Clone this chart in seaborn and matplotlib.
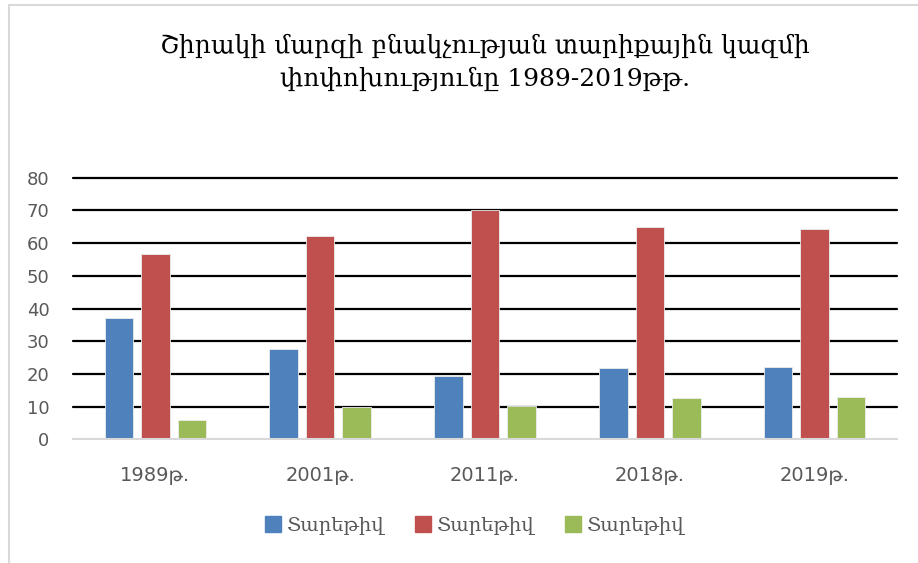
import pandas as pd
import matplotlib.pyplot as plt
import seaborn as sns
from matplotlib.lines import Line2D

years = ["1989թ.", "2001թ.", "2011թ.", "2018թ.", "2019թ."]
series_names = ["Տարեթիվ", "Տարեթիվ ", "Տարեթիվ  "]
blue_vals = [37.0, 27.5, 19.4, 21.9, 22.1]
red_vals = [56.6, 62.2, 70.1, 65.0, 64.3]
green_vals = [5.9, 9.8, 10.3, 12.5, 13.0]
colors = ["#4F81BD", "#C0504D", "#9BBB59"]
title = "Շիրակի մարզի բնակչության տարիքային կազմի\nփոփոխությունը 1989-2019թթ."

rows = []
for name, vals in zip(series_names, [blue_vals, red_vals, green_vals]):
    for yr, v in zip(years, vals):
        rows.append({"year": yr, "series": name, "value": v})
df = pd.DataFrame(rows)

sns.set_style("white")
plt.rcParams["font.family"] = ["DejaVu Sans"]

fig = plt.figure(figsize=(9.18, 5.63), dpi=100)
ax = fig.add_axes([73 / 918, 1 - 439.3 / 563, 824 / 918, 261.6 / 563])

for y in range(10, 90, 10):
    ax.axhline(y, color="black", lw=1.6, zorder=0, clip_on=False)

sns.barplot(data=df, x="year", y="value", hue="series", palette=colors,
            width=0.664, gap=0.217, saturation=1, ax=ax, legend=False, zorder=2,
            edgecolor="#EDEDED", linewidth=0.6)

ax.set_ylim(0, 80)
ax.set_xlim(-0.5, 4.5)
ax.set_yticks(range(0, 90, 10))
ax.set_xlabel("")
ax.set_ylabel("")
for s in ["top", "right", "left"]:
    ax.spines[s].set_visible(False)
ax.spines["bottom"].set_color("#D9D9D9")
ax.spines["bottom"].set_linewidth(1.5)
ax.tick_params(axis="both", length=0, colors="#595959")
ax.tick_params(axis="y", pad=17, labelsize=13)
ax.tick_params(axis="x", pad=19, labelsize=14)

handles = [Line2D([0], [0], marker="s", color="none", markerfacecolor=c,
                  markeredgecolor=c, markersize=11) for c in colors]
fig.legend(handles, ["Տարեթիվ"] * 3, loc="center", bbox_to_anchor=(472 / 918, 1 - 526 / 563),
           ncol=3, frameon=False, labelcolor="#595959",
           handletextpad=0.0, columnspacing=1.3, handlelength=1.4,
           prop={"family": ["DejaVu Serif"], "size": 14})

fig.text(485 / 918, 1 - 62 / 563, title, ha="center", va="center", fontsize=18,
         family=["DejaVu Serif"], linespacing=1.45, color="black")

# outer chart frame
fig.add_artist(Line2D([9 / 918, 9 / 918], [0, 1 - 5 / 563], transform=fig.transFigure,
                      color="#D9D9D9", lw=1.5))
fig.add_artist(Line2D([9 / 918, 1], [1 - 5 / 563, 1 - 5 / 563], transform=fig.transFigure,
                      color="#D9D9D9", lw=1.5))

fig.savefig("out.png", dpi=100)
